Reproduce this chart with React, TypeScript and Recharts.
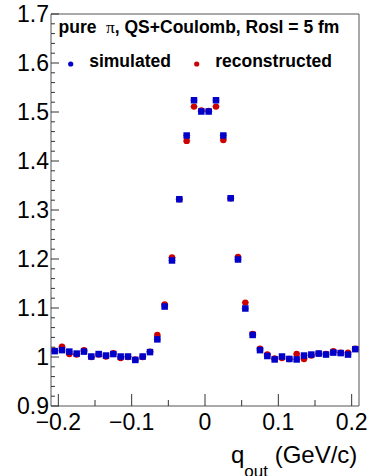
import { ErrorBar, ReferenceArea, Scatter, ScatterChart, XAxis, YAxis } from "recharts";

// bin centres of q_out (GeV/c), 0.01 wide bins
const qOut = [
  -0.205, -0.195, -0.185, -0.175, -0.165, -0.155, -0.145, -0.135, -0.125, -0.115, -0.105,
  -0.095, -0.085, -0.075, -0.065, -0.055, -0.045, -0.035, -0.025, -0.015, -0.005,
  0.005, 0.015, 0.025, 0.035, 0.045, 0.055, 0.065, 0.075, 0.085, 0.095,
  0.105, 0.115, 0.125, 0.135, 0.145, 0.155, 0.165, 0.175, 0.185, 0.195, 0.205,
];

const simulated = [
  1.012, 1.014, 1.011, 1.007, 1.011, 1.001, 1.006, 1.003, 1.006, 1.001, 1.001,
  0.994, 1.001, 1.01, 1.036, 1.103, 1.197, 1.322, 1.452, 1.524, 1.501,
  1.501, 1.524, 1.452, 1.324, 1.199, 1.099, 1.045, 1.014, 1.002, 0.995,
  1.001, 0.996, 0.995, 1.003, 1.005, 1.007, 1.005, 1.009, 1.008, 1.005, 1.016,
];

const reconstructed = [
  1.013, 1.021, 1.006, 1.005, 1.014, 1.0, 1.005, 1.001, 1.008, 0.998, 1.0,
  0.995, 1.0, 1.011, 1.045, 1.107, 1.203, 1.322, 1.441, 1.511, 1.503,
  1.502, 1.511, 1.443, 1.324, 1.204, 1.111, 1.047, 1.017, 1.005, 0.997,
  0.998, 0.996, 1.006, 0.996, 1.003, 1.007, 1.006, 1.012, 1.009, 1.009, 1.017,
];

const binHalfWidth = 0.005;

const xTicks = [-0.2, -0.15, -0.1, -0.05, 0, 0.05, 0.1, 0.15, 0.2];
const yTicks = [
  0.9, 0.92, 0.94, 0.96, 0.98, 1.0, 1.02, 1.04, 1.06, 1.08, 1.1, 1.12, 1.14, 1.16, 1.18,
  1.2, 1.22, 1.24, 1.26, 1.28, 1.3, 1.32, 1.34, 1.36, 1.38, 1.4, 1.42, 1.44, 1.46, 1.48,
  1.5, 1.52, 1.54, 1.56, 1.58, 1.6, 1.62, 1.64, 1.66, 1.68, 1.7,
];

const legendItems = [
  { name: "simulated", color: "#0000c8" },
  { name: "reconstructed", color: "#cc0000" },
];

const FONT = "'Liberation Sans', Arial, Helvetica, sans-serif";
const SIM_COLOR = "#0000c8";
const RECO_COLOR = "#cc0000";
const AXIS_COLOR = "#333";

const simData = qOut.map((q, i) => ({ q, v: simulated[i], ex: binHalfWidth }));
const recoData = qOut.map((q, i) => ({ q, v: reconstructed[i], ex: binHalfWidth }));

const isMajor = (v: number) => Math.abs(v * 10 - Math.round(v * 10)) < 1e-6;
const fmt = (v: number) => String(Math.round(v * 10) / 10).replace("-", "\u2212");

function XTick(props: any) {
  const { x, y, payload } = props;
  const major = isMajor(payload.value);
  return (
    <g>
      <line x1={x} x2={x} y1={y} y2={y - (major ? 12 : 6)} stroke={AXIS_COLOR} />
      {major && (
        <text x={x} y={y + 24} textAnchor="middle" fontSize={23} fontFamily={FONT} fill="#000">
          {fmt(payload.value)}
        </text>
      )}
    </g>
  );
}

function YTick(props: any) {
  const { x, y, payload } = props;
  const major = isMajor(payload.value);
  return (
    <g>
      <line x1={x} x2={x + (major ? 8 : 4)} y1={y} y2={y} stroke={AXIS_COLOR} />
      {major && (
        <text x={x - 2} y={y + 8} textAnchor="end" fontSize={23} fontFamily={FONT} fill="#000">
          {fmt(payload.value)}
        </text>
      )}
    </g>
  );
}

// axis title with a subscript that hangs below the bottom edge
function QOutTitle(props: any) {
  const vb = props.viewBox || { x: 51, y: 406 };
  return (
    <text x={vb.x + 180} y={vb.y + 57} fontSize={24} fontFamily={FONT} fill="#000">
      <tspan>q</tspan>
      <tspan fontSize={17} dy={14}>out</tspan>
      <tspan dy={-14}> (GeV/c)</tspan>
    </text>
  );
}

const SimMarker = (p: any) => (
  <rect x={p.cx - 3.25} y={p.cy - 3.25} width={6.5} height={6.5} fill={SIM_COLOR} />
);
const RecoMarker = (p: any) => <circle cx={p.cx} cy={p.cy} r={3.2} fill={RECO_COLOR} />;

export default function App() {
  return (
    <div style={{ position: "absolute", left: 0, top: 0, width: 367, height: 476, background: "#fff" }}>
      <ScatterChart width={367} height={476} margin={{ top: 14, right: 8, left: 0, bottom: 0 }}>
        <XAxis
          type="number"
          dataKey="q"
          domain={[-0.21, 0.21]}
          allowDataOverflow
          ticks={xTicks}
          interval={0}
          tickSize={0}
          tickMargin={0}
          axisLine={false}
          tickLine={false}
          tick={(p: any) => <XTick {...p} />}
          height={70}
          label={(p: any) => <QOutTitle {...p} />}
        />
        <YAxis
          type="number"
          dataKey="v"
          domain={[0.9, 1.7]}
          allowDataOverflow
          ticks={yTicks}
          interval={0}
          tickSize={0}
          tickMargin={0}
          axisLine={false}
          tickLine={false}
          tick={(p: any) => <YTick {...p} />}
          width={51}
        />
        <ReferenceArea x1={-0.21} x2={0.21} y1={0.9} y2={1.7} fill="none" stroke="#555" strokeWidth={1} />
        <Scatter data={recoData} dataKey="v" fill={RECO_COLOR} shape={RecoMarker} isAnimationActive={false}>
          <ErrorBar dataKey="ex" direction="x" width={0} stroke="#e08080" strokeWidth={1} />
        </Scatter>
        <Scatter data={simData} dataKey="v" fill={SIM_COLOR} shape={SimMarker} isAnimationActive={false}>
          <ErrorBar dataKey="ex" direction="x" width={0} stroke="#8080f0" strokeWidth={1} />
        </Scatter>
      </ScatterChart>
      <svg
        width={367}
        height={476}
        style={{ position: "absolute", left: 0, top: 0, pointerEvents: "none" }}
      >
        <text x={58.5} y={33} fontSize={17.5} fontWeight="bold" fontFamily={FONT} fill="#000">
          pure
          <tspan dx={9.5} fontWeight="normal" fontFamily="'Liberation Serif', serif">
            {"\u03c0"}
          </tspan>
          <tspan>, QS+Coulomb, Rosl = 5 fm</tspan>
        </text>
        {legendItems.map((item, i) => {
          const cx = i === 0 ? 70.7 : 196.7;
          return (
            <g key={item.name}>
              <circle cx={cx} cy={64} r={2.6} fill={item.color} />
              <text x={cx + 18.5} y={66.5} fontSize={17.5} fontWeight="bold" fontFamily={FONT} fill="#000">
                {item.name}
              </text>
            </g>
          );
        })}
      </svg>
    </div>
  );
}
